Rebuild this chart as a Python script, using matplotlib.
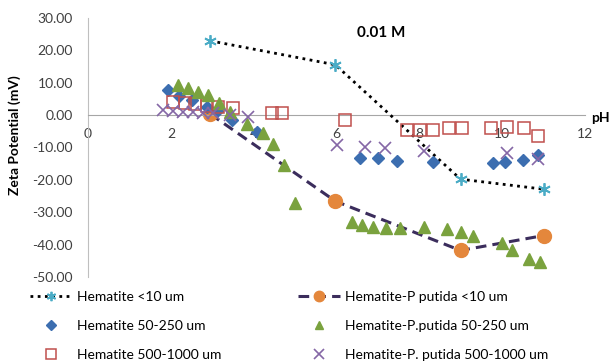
import matplotlib
matplotlib.use("Agg")
import matplotlib.pyplot as plt

# data
h10_x = [2.95, 5.97, 8.99, 11.0]
h10_y = [22.9, 15.5, -19.8, -22.9]

hp10_x = [2.95, 5.97, 8.99, 11.0]
hp10_y = [0.3, -26.6, -41.8, -37.2]

h50_x = [1.93, 2.2, 2.5, 2.87, 3.1, 3.48, 4.08, 6.57, 7.0, 7.46, 8.33, 9.78, 10.07, 10.5, 10.85]
h50_y = [7.7, 6.0, 4.5, 2.5, 1.2, -1.5, -5.2, -13.4, -13.4, -14.2, -14.5, -14.8, -14.5, -13.9, -12.4]

hp50_x = [2.18, 2.42, 2.66, 2.9, 3.15, 3.43, 3.83, 4.23, 4.47, 4.72, 5.0,
          6.37, 6.61, 6.87, 7.19, 7.52, 8.12, 8.66, 8.99, 9.28, 9.99, 10.24, 10.65, 10.92]
hp50_y = [9.3, 8.3, 7.2, 6.2, 3.6, 1.0, -2.8, -5.7, -8.8, -15.5, -27.3,
          -33.1, -34.0, -34.7, -35.0, -35.0, -34.7, -35.3, -36.2, -37.2, -39.6, -41.8, -44.3, -45.5]

h500_x = [2.05, 2.34, 2.58, 2.87, 3.14, 3.5, 4.44, 4.68, 6.21, 7.71, 8.02, 8.33, 8.72, 9.03, 9.73, 10.12, 10.53, 10.87]
h500_y = [4.0, 3.7, 3.4, 2.8, 2.5, 2.2, 0.6, 0.6, -1.5, -4.6, -4.6, -4.6, -4.0, -4.0, -4.0, -3.7, -4.0, -6.5]

hp500_x = [1.81, 2.05, 2.3, 2.54, 2.78, 3.02, 3.43, 3.87, 6.01, 6.69, 7.17, 8.12, 10.12, 10.87]
hp500_y = [1.5, 1.2, 1.0, 1.0, 0.7, 0.5, 0.0, -0.5, -9.3, -9.9, -10.2, -11.1, -11.8, -13.7]

plt.rcParams['font.family'] = ['Lato', 'DejaVu Sans']

fig = plt.figure(figsize=(6.16, 3.64), dpi=100)
ax = fig.add_axes([0.143, 0.239, 0.807, 0.712])

ax.plot(h10_x, h10_y, color='black', linestyle=(0, (1, 1.6)), linewidth=2,
        marker=(6, 2, 0), markersize=9, markeredgecolor='#4bacc6', markeredgewidth=1.3,
        label='Hematite <10 um', zorder=3)
ax.plot(h50_x, h50_y, linestyle='none', marker='D', markersize=6.5,
        color='#3c6eb0', label='Hematite 50-250 um', zorder=3)
ax.plot(h500_x, h500_y, linestyle='none', marker='s', markersize=9,
        markerfacecolor='none', markeredgecolor='#c0504d', markeredgewidth=1.1,
        label='Hematite 500-1000 um', zorder=3)
ax.plot(hp10_x, hp10_y, color='#3b2d5c', linestyle=(0, (3.5, 2)), linewidth=2.2,
        marker='o', markersize=10, markerfacecolor='#e4873c', markeredgecolor='#e4873c',
        label='Hematite-P putida <10 um', zorder=2)
ax.plot(hp50_x, hp50_y, linestyle='none', marker='^', markersize=8.5,
        color='#7aa23e', label='Hematite-P.putida 50-250 um', zorder=3)
ax.plot(hp500_x, hp500_y, linestyle='none', marker='x', markersize=9,
        markeredgewidth=1.2, color='#8567a6', label='Hematite-P. putida 500-1000 um', zorder=3)

ax.set_xlim(0, 12)
ax.set_ylim(-50, 30)
ax.set_xticks([0, 2, 4, 6, 8, 10, 12])
ax.set_yticks([-50, -40, -30, -20, -10, 0, 10, 20, 30])
ax.set_yticklabels(['%.2f' % v for v in ax.get_yticks()])
ax.tick_params(length=0, labelsize=10, labelcolor='#404040')
ax.tick_params(axis='x', pad=9)
ax.tick_params(axis='y', pad=11)

for s in ['top', 'right']:
    ax.spines[s].set_visible(False)
ax.spines['bottom'].set_position(('data', 0))
ax.spines['bottom'].set_color('#a6a6a6')
ax.spines['left'].set_color('#bfbfbf')

ax.text(0.59, 0.94, '0.01 M', transform=ax.transAxes, fontsize=11, fontweight='bold',
        ha='center', va='center')
fig.text(600 / 616, 1 - 118 / 364, 'pH', fontsize=10, fontweight='bold', ha='center', va='center')
fig.text(15 / 616, 1 - 135 / 364, 'Zeta Potential (mV)', fontsize=10, fontweight='bold',
         rotation=90, ha='center', va='center')

fig.legend(loc='upper left', bbox_to_anchor=(0.04, 0.215), ncol=2, frameon=False,
           fontsize=10, handlelength=3, labelspacing=1.2, columnspacing=5.5,
           handletextpad=0.4, borderaxespad=0, markerscale=0.75)

fig.savefig('out.png', dpi=100)
